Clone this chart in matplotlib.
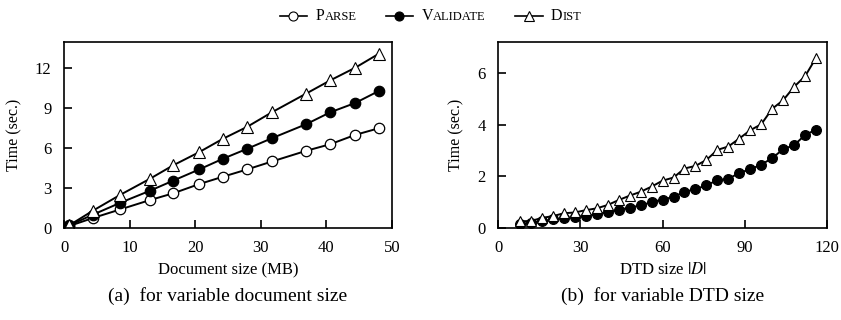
import matplotlib
matplotlib.use('Agg')
import matplotlib.pyplot as plt
from matplotlib.offsetbox import HPacker, TextArea, DrawingArea, AnchoredOffsetbox
from matplotlib.lines import Line2D

plt.rcParams['font.family'] = ['Liberation Serif', 'DejaVu Serif']
plt.rcParams['mathtext.fontset'] = 'stix'

# (a) variable document size
doc_size = [0.8, 4.4, 8.6, 13.1, 16.6, 20.6, 24.2, 27.9, 31.7, 36.9, 40.6, 44.4, 48.0]
parse_a = [0.15, 0.75, 1.4, 2.1, 2.6, 3.3, 3.85, 4.4, 5.0, 5.8, 6.3, 7.0, 7.5]
validate_a = [0.2, 1.0, 1.9, 2.8, 3.55, 4.4, 5.2, 5.95, 6.75, 7.8, 8.7, 9.4, 10.3]
dist_a = [0.2, 1.3, 2.5, 3.7, 4.7, 5.7, 6.7, 7.6, 8.7, 10.1, 11.1, 12.05, 13.1]

# (b) variable DTD size
dtd_size = [8, 12, 16, 20, 24, 28, 32, 36, 40, 44, 48, 52, 56, 60,
            64, 68, 72, 76, 80, 84, 88, 92, 96, 100, 104, 108, 112, 116]
validate_b = [0.15, 0.2, 0.27, 0.33, 0.38, 0.42, 0.47, 0.53, 0.62, 0.7, 0.79, 0.87, 1.0, 1.1,
              1.2, 1.4, 1.5, 1.65, 1.85, 1.9, 2.13, 2.27, 2.45, 2.7, 3.05, 3.2, 3.6, 3.8]
dist_b = [0.26, 0.27, 0.39, 0.46, 0.57, 0.6, 0.69, 0.76, 0.89, 1.08, 1.25, 1.4, 1.6, 1.83,
          1.95, 2.3, 2.4, 2.63, 3.02, 3.15, 3.46, 3.78, 4.01, 4.61, 4.94, 5.46, 5.87, 6.58]

styles = {
    'parse': dict(marker='o', mfc='white', mec='black'),
    'validate': dict(marker='o', mfc='black', mec='black'),
    'dist': dict(marker='^', mfc='white', mec='black'),
}
ms = 7.5

fig = plt.figure(figsize=(8.41, 3.2), dpi=100)
ax1 = fig.add_axes([0.0761, 0.2875, 0.39, 0.582])
ax2 = fig.add_axes([0.5922, 0.2875, 0.3912, 0.582])

ax1.plot(doc_size, parse_a, color='black', lw=1.4, ms=ms, mew=0.9, **styles['parse'])
ax1.plot(doc_size, validate_a, color='black', lw=1.4, ms=ms, mew=0.9, **styles['validate'])
ax1.plot(doc_size, dist_a, color='black', lw=1.4, ms=ms + 0.5, mew=0.8, **styles['dist'])
ax1.set_xlim(0, 50)
ax1.set_ylim(0, 14)
ax1.set_xticks([0, 10, 20, 30, 40, 50])
ax1.set_yticks([0, 3, 6, 9, 12])
ax1.set_xlabel('Document size (MB)', fontsize=12, labelpad=4)
ax1.set_ylabel('Time (sec.)', fontsize=11.5, labelpad=9)

ax2.plot(dtd_size, validate_b, color='black', lw=1.4, ms=ms - 0.5, mew=0.9, **styles['validate'])
ax2.plot(dtd_size, dist_b, color='black', lw=1.4, ms=ms, mew=0.8, **styles['dist'])
ax2.set_xlim(0, 120)
ax2.set_ylim(0, 7.2)
ax2.set_xticks([0, 30, 60, 90, 120])
ax2.set_yticks([0, 2, 4, 6])
ax2.set_xlabel(r'DTD size $|D|$', fontsize=12, labelpad=4)
ax2.set_ylabel('Time (sec.)', fontsize=11.5, labelpad=9)

for ax in (ax1, ax2):
    for s in ax.spines.values():
        s.set_linewidth(1.2)
    ax.tick_params(direction='in', length=6, width=1.2, labelsize=12,
                   top=False, right=False, pad=9)

fig.text(0.271, 0.075, '(a)  for variable document size', ha='center', va='center', fontsize=14)
fig.text(0.788, 0.075, '(b)  for variable DTD size', ha='center', va='center', fontsize=14)

# legend with small-caps style labels
items = [('parse', 'P', 'ARSE'), ('validate', 'V', 'ALIDATE'), ('dist', 'D', 'IST')]
children = []
for key, big, small in items:
    da = DrawingArea(22, 10, 0, 0)
    da.add_artist(Line2D([1, 21], [5, 5], color='black', lw=1.2))
    da.add_artist(Line2D([11], [5], color='black', ms=6.5, mew=0.8,
                         **styles[key]))
    t1 = TextArea(big, textprops=dict(fontsize=11.5))
    t2 = TextArea(small, textprops=dict(fontsize=9))
    word = HPacker(children=[t1, t2], align='baseline', pad=0, sep=0)
    children.append(HPacker(children=[da, word], align='center', pad=0, sep=5))
box = HPacker(children=children, align='center', pad=0, sep=20)
anch = AnchoredOffsetbox(loc='upper center', child=box, frameon=False,
                         bbox_to_anchor=(0.511, 1.0), bbox_transform=fig.transFigure,
                         borderpad=0.2)
fig.add_artist(anch)

fig.savefig('out.png', dpi=100)
